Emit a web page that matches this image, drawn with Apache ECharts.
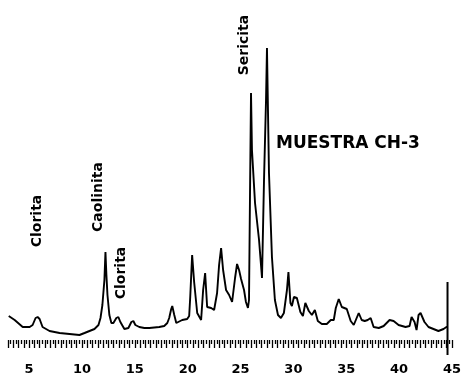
<!DOCTYPE html>
<html>
<head>
<meta charset="utf-8">
<script src="https://cdn.jsdelivr.net/npm/echarts@6/dist/echarts.min.js"></script>
<style>html,body{margin:0;padding:0;background:#fff}#c{width:464px;height:379px}</style>
</head>
<body>
<div id="c"></div>
<script>
// 2θ (degrees) of each traced point
var twoTheta = [3.07,3.63,4.39,5.05,5.33,5.61,5.80,5.99,6.27,6.93,7.88,8.82,9.76,10.24,10.71,11.18,11.56,11.75,11.93,12.12,12.22,12.31,12.41,12.59,12.78,12.97,13.25,13.44,13.63,14.01,14.39,14.67,14.86,15.05,15.42,15.90,16.37,17.31,17.78,18.07,18.25,18.44,18.54,18.73,18.92,19.48,19.95,20.14,20.24,20.42,20.61,20.90,21.27,21.46,21.65,21.84,22.22,22.50,22.78,22.97,23.16,23.35,23.63,23.92,24.20,24.48,24.67,24.86,25.05,25.14,25.33,25.51,25.70,25.80,25.89,25.99,26.08,26.37,26.75,27.03,27.22,27.41,27.50,27.69,27.97,28.25,28.54,28.82,29.10,29.39,29.53,29.72,29.86,30.05,30.33,30.66,30.90,31.13,31.46,31.75,32.03,32.31,32.69,33.16,33.54,33.82,34.01,34.29,34.58,35.05,35.42,35.71,36.18,36.46,36.75,37.03,37.31,37.59,38.08,38.54,39.10,39.48,39.95,40.61,40.99,41.18,41.46,41.65,41.84,42.03,42.40,42.78,43.25,43.72,44.20,44.48,44.58];
// intensity (arbitrary units) at each point
var intensity = [24,20,13,13,15,22,23,21,13,9,7,6,5,7,9,11,15,22,35,60,88,65,45,25,17,17,22,23,18,11,12,18,19,15,13,12,12,13,14,17,22,31,34,25,17,20,21,24,43,85,58,27,20,50,67,33,32,30,47,75,92,70,50,45,38,62,76,70,61,63,50,38,32,40,140,247,190,137,100,62,160,240,292,167,83,40,25,22,27,50,68,37,34,43,42,28,24,37,29,25,30,19,16,16,20,20,32,41,33,31,19,15,27,20,19,20,22,13,12,14,20,19,15,13,14,23,18,10,25,27,18,13,11,9,11,13,13];
// end-of-scan marker stroke
var endMarkX = [44.58, 44.58];
var endMarkY = [58, -15];
// axis ticks / labels
var xMin = 3, xMax = 45, tickStep = 0.5, labelStep = 5;
// annotations: text, 2θ, intensity, rotation
var annText = ['Clorita', 'Caolinita', 'Clorita', 'Sericita', 'MUESTRA CH-3'];
var annX = [5.80, 11.56, 13.73, 25.33, 28.35];
var annY = [119, 143, 67, 295, 196];
var annRot = [90, 90, 90, 90, 0];

var pts = twoTheta.map(function(t,i){ return [t, intensity[i]]; });
var endPts = endMarkX.map(function(t,i){ return [t, endMarkY[i]]; });
var annData = annText.map(function(t,i){
  return {
    value: [annX[i], annY[i]],
    label: {
      formatter: t,
      rotate: annRot[i],
      align: annRot[i] ? 'center' : 'left',
      verticalAlign: 'middle',
      fontSize: annRot[i] ? 14 : 17
    }
  };
});

var chart = echarts.init(document.getElementById('c'), null, {renderer: 'canvas'});
chart.setOption({
  backgroundColor: '#fff',
  animation: false,
  grid: {left: 8, right: 10.5, top: 40, bottom: 39},
  xAxis: {
    type: 'value', min: xMin, max: xMax, interval: tickStep,
    offset: 5,
    axisLine: {show: false},
    splitLine: {show: false},
    axisTick: {show: true, length: 8, lineStyle: {color: '#000', width: 1.3}},
    minorTick: {show: true, splitNumber: 2, length: 4, lineStyle: {color: '#000', width: 1.3}},
    axisLabel: {
      margin: 18, color: '#000', fontSize: 13, fontWeight: 'bold', fontFamily: 'DejaVu Sans',
      formatter: function(v){ return (Math.abs(v/labelStep - Math.round(v/labelStep)) < 1e-6 && v > xMin) ? String(Math.round(v)) : ''; }
    }
  },
  yAxis: {type: 'value', min: 0, max: 300, show: false},
  series: [
    {type: 'line', data: pts, showSymbol: false, symbol: 'none', smooth: false,
     lineStyle: {color: '#000', width: 1.9}, z: 3},
    {type: 'line', data: endPts, showSymbol: false, symbol: 'none', clip: false,
     lineStyle: {color: '#000', width: 2}, z: 3},
    {type: 'scatter', data: annData, symbolSize: 0, silent: true, itemStyle: {opacity: 1},
     label: {show: true, position: 'inside', color: '#000', opacity: 1, fontFamily: 'DejaVu Sans', fontWeight: 'bold'}}
  ]
});
</script>
</body>
</html>
